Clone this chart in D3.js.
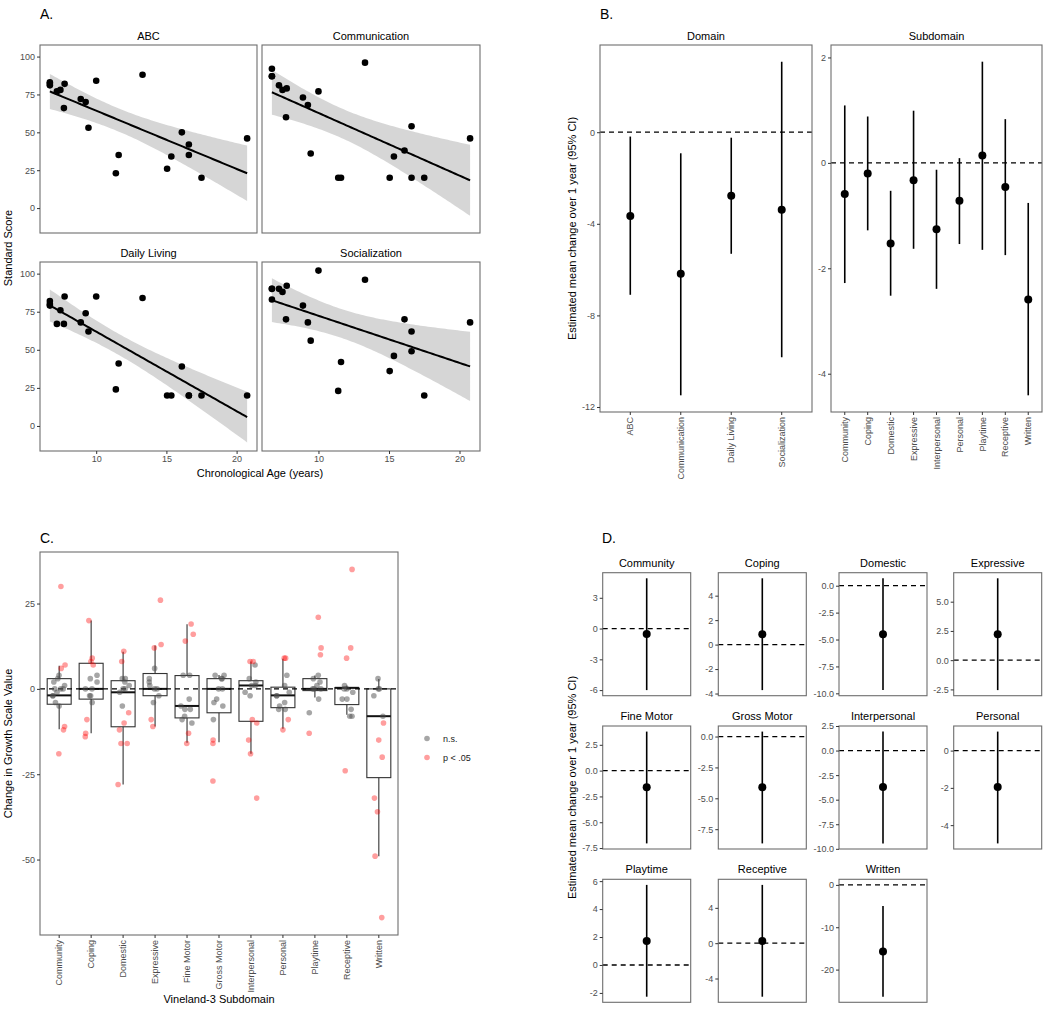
<!DOCTYPE html>
<html><head><meta charset="utf-8">
<script src="https://cdn.jsdelivr.net/npm/d3@7"></script>
<style>
body{margin:0;background:#fff;}
svg text{font-family:"Liberation Sans", Arial, sans-serif;}
</style>
</head><body>
<svg id="chart" width="1050" height="1009"></svg>
<script>
// ---------------- DATA ----------------
// Panel A: standard score vs chronological age
const ages        = [6.7, 6.7, 6.7, 7.2, 7.45, 7.7, 7.75, 8.9, 9.25, 9.45, 10.0, 11.4, 11.6, 13.3, 15.05, 15.35, 16.1, 16.6, 16.6, 17.5, 20.75];
const abcScores   = [83, 82, 81, 77, 78, 66, 82, 72, 70, 53, 84, 23, 35, 88, 26, 34, 50, 42, 35, 20, 46];
const commScores  = [92, 87, 87, 81, 78, 60, 79, 73, 68, 36, 77, 20, 20, 96, 20, 34, 38, 54, 20, 20, 46];
const dailyScores = [82, 79, 80, 67, 76, 67, 85, 68, 74, 62, 85, 24, 41, 84, 20, 20, 39, 20, 20, 20, 20];
const socScores   = [90, 83, 90, 90, 88, 70, 92, 79, 68, 56, 102, 23, 42, 96, 36, 46, 70, 62, 49, 20, 68];
const aFacetNames = ["ABC", "Communication", "Daily Living", "Socialization"];
const aYTicks = [0, 25, 50, 75, 100];
const aXTicks = [10, 15, 20];

// Panel B: estimated mean change over 1 year
const bDomains = ["ABC", "Communication", "Daily Living", "Socialization"];
const bDomEst  = [-3.66, -6.18, -2.78, -3.39];
const bDomLo   = [-7.1, -11.49, -5.31, -9.83];
const bDomHi   = [-0.19, -0.92, -0.24, 3.08];
const bDomTicks = [0, -4, -8, -12];
const bSubs   = ["Community", "Coping", "Domestic", "Expressive", "Interpersonal", "Personal", "Playtime", "Receptive", "Written"];
const bSubEst = [-0.59, -0.2, -1.53, -0.33, -1.26, -0.72, 0.14, -0.46, -2.59];
const bSubLo  = [-2.28, -1.28, -2.52, -1.63, -2.39, -1.54, -1.65, -1.75, -4.41];
const bSubHi  = [1.09, 0.88, -0.53, 0.99, -0.13, 0.09, 1.92, 0.83, -0.76];
const bSubTicks = [2, 0, -2, -4];

// Panel C: change in growth scale value
const cSubs = ["Community", "Coping", "Domestic", "Expressive", "Fine Motor", "Gross Motor", "Interpersonal", "Personal", "Playtime", "Receptive", "Written"];
const cNs = [
  [4, 2, 0, 0, -2, -2, -4, -5, 0, 1, -1, 3],
  [4, 3, 0, -2, -2, -4, 2, 0],
  [3, 3, 2, 0, -1, -5, 0, 1],
  [6, 3, 2, 1, 0, -2, -4, 0],
  [4, 4, -3, -5, -6, -6, -8, -9, -10],
  [4, 4, 3, 3, 0, 0, -3, -4, -5, -9],
  [7, 3, 2, 1, 1, -1, -2],
  [4, 1, -1, -2, -2, -4, -5, -6, -6],
  [4, 3, 2, 1, 0, 0, 0, -3, -7],
  [1, 0, 0, -1, -3, -3, -6, -8, -8],
  [3, 0, 0, -2, -8]
];
const cSig = [
  [30, 7, 6, -11, -12, -19],
  [20, 9, 8, 7, -9, -13, -14],
  [11, 8, -7, -10, -12, -16, -16, -28],
  [26, 13, 12, -9, -11],
  [19, 16, 14, -13, -16],
  [-15, -16, -27],
  [8, 8, -9, -10, -15, -19, -32],
  [9, 9, -9, -12],
  [21, 12, 10, -13],
  [35, 12, 9, -24],
  [-10, -15, -20, -32, -36, -49, -67]
];
const cQ1  = [-4.5, -3.0, -11.1, -2.0, -8.5, -7.0, -9.5, -5.5, -0.5, -4.6, -26];
const cMed = [-1.9, 0, -1.0, 0, -5.0, 0, 1.0, -1.9, 0, 0.3, -8];
const cQ3  = [3.0, 7.5, 2.4, 4.5, 3.9, 3.0, 2.4, 0.5, 3.0, 0.4, 0];
const cWLo = [-11.8, -13, -28, -11, -15.8, -15.6, -19, -11.7, -2.5, -7.6, -49];
const cWHi = [6.8, 20, 10.9, 12.7, 18.9, 4.1, 8.0, 8.8, 3.9, 1.0, 2.9];
const cYTicks = [25, 0, -25, -50];
const cLegend = ["n.s.", "p < .05"];

// Panel D: per-subdomain estimates
const dSubs = ["Community", "Coping", "Domestic", "Expressive", "Fine Motor", "Gross Motor", "Interpersonal", "Personal", "Playtime", "Receptive", "Written"];
const dEst = [-0.54, 0.85, -4.5, 2.22, -1.6, -4.1, -3.72, -1.95, 1.72, 0.26, -15.75];
const dLo  = [-6.0, -3.72, -9.7, -2.56, -7.05, -8.65, -9.45, -4.98, -2.27, -6.06, -26.4];
const dHi  = [4.9, 5.42, 0.69, 7.0, 3.78, 0.4, 1.93, 1.02, 5.73, 6.6, -4.96];
const dTicks = [[3,0,-3,-6],[4,2,0,-2,-4],[0,-2.5,-5,-7.5,-10],[5,2.5,0,-2.5],[2.5,0,-2.5,-5,-7.5],[0,-2.5,-5,-7.5],[2.5,0,-2.5,-5,-7.5,-10],[0,-2,-4],[6,4,2,0,-2],[4,0,-4],[0,-10,-20]];

// ---------------- HELPERS ----------------
const FONT = "Liberation Sans, Arial, sans-serif";
const svg = d3.select("#chart");
const BORDER = "#6e6e6e";

function frame(x0, y0, x1, y1) {
  svg.append("rect").attr("x", x0).attr("y", y0).attr("width", x1 - x0).attr("height", y1 - y0)
    .attr("fill", "none").attr("stroke", BORDER).attr("stroke-width", 1.1);
}
function styleAxis(g) {
  g.attr("font-size", 9).attr("font-family", FONT);
  g.select(".domain").remove();
  g.selectAll(".tick line").attr("stroke", "#333").attr("stroke-width", 1);
  g.selectAll(".tick text").attr("fill", "#4d4d4d");
}
function leftAxis(x0, scale, ticks, fmt) {
  const g = svg.append("g").attr("transform", `translate(${x0},0)`)
    .call(d3.axisLeft(scale).tickValues(ticks).tickSize(3).tickPadding(2).tickFormat(fmt));
  styleAxis(g);
  return g;
}
function bottomAxis(y1, scale, ticks, fmt) {
  const g = svg.append("g").attr("transform", `translate(0,${y1})`)
    .call(d3.axisBottom(scale).tickValues(ticks).tickSize(3).tickPadding(2).tickFormat(fmt));
  styleAxis(g);
  return g;
}
function bottomBandAxis(y1, scale) {
  const g = svg.append("g").attr("transform", `translate(0,${y1})`)
    .call(d3.axisBottom(scale).tickSize(3).tickSizeOuter(0));
  styleAxis(g);
  g.selectAll(".tick text").attr("transform", "rotate(-90)").attr("x", -5).attr("y", 0)
    .attr("dy", "0.35em").attr("text-anchor", "end");
  return g;
}
function text(x, y, s, size, opts = {}) {
  const t = svg.append("text").attr("x", x).attr("y", y).text(s)
    .attr("font-size", size).attr("font-family", FONT).attr("fill", opts.fill || "#000")
    .attr("text-anchor", opts.anchor || "middle");
  if (opts.rotate) t.attr("transform", `rotate(-90,${x},${y})`);
  return t;
}
function expand(lo, hi, f = 0.05) { const r = hi - lo; return [lo - r * f, hi + r * f]; }
function bandX(cats, x0, x1) {
  return d3.scaleBand().domain(cats).range([x0, x1]).paddingInner(0).paddingOuter(0.1);
}
function dashed(x0, x1, y) {
  svg.append("line").attr("x1", x0).attr("x2", x1).attr("y1", y).attr("y2", y)
    .attr("stroke", "#000").attr("stroke-width", 1.3).attr("stroke-dasharray", "5,4");
}

// linear fit with 95% CI
function linfit(xs, ys) {
  const n = xs.length, mx = d3.mean(xs), my = d3.mean(ys);
  let sxx = 0, sxy = 0;
  xs.forEach((x, i) => { sxx += (x - mx) ** 2; sxy += (x - mx) * (ys[i] - my); });
  const b = sxy / sxx, a = my - b * mx;
  let sse = 0; xs.forEach((x, i) => { sse += (ys[i] - a - b * x) ** 2; });
  const s = Math.sqrt(sse / (n - 2)), t = 2.093;
  const [xmin, xmax] = d3.extent(xs);
  const grid = d3.range(0, 81).map(i => xmin + (xmax - xmin) * i / 80);
  return grid.map(x => {
    const yhat = a + b * x, se = s * Math.sqrt(1 / n + (x - mx) ** 2 / sxx);
    return { x, y: yhat, lo: yhat - t * se, hi: yhat + t * se };
  });
}

// ---------------- PANEL A ----------------
text(40, 18.5, "A.", 14, { anchor: "start" });
const aScores = [abcScores, commScores, dailyScores, socScores];
const aFits = aScores.map(s => linfit(ages, s));
const allYA = aScores.flat().concat(aFits.flat().map(d => d.lo), aFits.flat().map(d => d.hi));
const aX = [40, 257, 262, 480];
const aRows = [[45, 233], [262, 451]];
const xDomA = expand(...d3.extent(ages));
const yDomA = expand(d3.min(allYA), d3.max(allYA));
aFacetNames.forEach((name, i) => {
  const col = i % 2, row = Math.floor(i / 2);
  const x0 = aX[col * 2], x1 = aX[col * 2 + 1], y0 = aRows[row][0], y1 = aRows[row][1];
  const x = d3.scaleLinear().domain(xDomA).range([x0, x1]);
  const y = d3.scaleLinear().domain(yDomA).range([y1, y0]);
  const fit = aFits[i];
  svg.append("path").datum(fit).attr("fill", "#999").attr("fill-opacity", 0.4)
    .attr("d", d3.area().x(d => x(d.x)).y0(d => y(d.lo)).y1(d => y(d.hi)));
  svg.append("path").datum(fit).attr("fill", "none").attr("stroke", "#000").attr("stroke-width", 2)
    .attr("d", d3.line().x(d => x(d.x)).y(d => y(d.y)));
  svg.append("g").selectAll("circle").data(ages.map((a, k) => [a, aScores[i][k]])).join("circle")
    .attr("cx", d => x(d[0])).attr("cy", d => y(d[1])).attr("r", 3.3).attr("fill", "#000");
  frame(x0, y0, x1, y1);
  text((x0 + x1) / 2, y0 - 5.5, name, 11);
  if (col === 0) leftAxis(x0, y, aYTicks, d3.format("d"));
  if (row === 1) bottomAxis(y1, x, aXTicks, d3.format("d"));
});
text(12, 248, "Standard Score", 11, { rotate: true });
text(260, 477, "Chronological Age (years)", 11);

// ---------------- PANEL B ----------------
text(600, 18.5, "B.", 14, { anchor: "start" });
function ciPanel(cats, est, lo, hi, ticks, x0, x1, y0, y1, title) {
  const x = bandX(cats, x0, x1);
  const y = d3.scaleLinear().domain(expand(Math.min(d3.min(lo), 0), Math.max(d3.max(hi), 0))).range([y1, y0]);
  dashed(x0, x1, y(0));
  const cx = c => x(c) + x.bandwidth() / 2;
  svg.append("g").selectAll("line").data(cats).join("line")
    .attr("x1", c => cx(c)).attr("x2", c => cx(c))
    .attr("y1", (c, i) => y(lo[i])).attr("y2", (c, i) => y(hi[i]))
    .attr("stroke", "#000").attr("stroke-width", 1.6);
  svg.append("g").selectAll("circle").data(cats).join("circle")
    .attr("cx", c => cx(c)).attr("cy", (c, i) => y(est[i])).attr("r", 4).attr("fill", "#000");
  frame(x0, y0, x1, y1);
  text((x0 + x1) / 2, y0 - 5.5, title, 11);
  leftAxis(x0, y, ticks, d3.format("d"));
  bottomBandAxis(y1, x);
}
ciPanel(bDomains, bDomEst, bDomLo, bDomHi, bDomTicks, 600, 812, 45, 412, "Domain");
ciPanel(bSubs, bSubEst, bSubLo, bSubHi, bSubTicks, 831, 1042, 45, 412, "Subdomain");
text(576, 228.5, "Estimated mean change over 1 year (95% CI)", 11, { rotate: true });

// ---------------- PANEL C ----------------
text(40, 543, "C.", 14, { anchor: "start" });
{
  const x0 = 40, x1 = 398, y0 = 552, y1 = 935;
  const x = bandX(cSubs, x0, x1);
  const allC = cNs.flat().concat(cSig.flat());
  const y = d3.scaleLinear().domain(expand(d3.min(allC), d3.max(allC))).range([y1, y0]);
  const cx = c => x(c) + x.bandwidth() / 2;
  const bw = x.bandwidth() * 0.75;
  const boxes = svg.append("g");
  cSubs.forEach((c, i) => {
    const g = boxes.append("g");
    g.append("line").attr("x1", cx(c)).attr("x2", cx(c)).attr("y1", y(cWHi[i])).attr("y2", y(cQ3[i]))
      .attr("stroke", "#333").attr("stroke-width", 1.1);
    g.append("line").attr("x1", cx(c)).attr("x2", cx(c)).attr("y1", y(cQ1[i])).attr("y2", y(cWLo[i]))
      .attr("stroke", "#333").attr("stroke-width", 1.1);
    g.append("rect").attr("x", cx(c) - bw / 2).attr("width", bw)
      .attr("y", y(cQ3[i])).attr("height", y(cQ1[i]) - y(cQ3[i]))
      .attr("fill", "none").attr("stroke", "#333").attr("stroke-width", 1.1);
    g.append("line").attr("x1", cx(c) - bw / 2).attr("x2", cx(c) + bw / 2).attr("y1", y(cMed[i])).attr("y2", y(cMed[i]))
      .attr("stroke", "#111").attr("stroke-width", 2);
  });
  dashed(x0, x1, y(0));
  const rng = d3.randomLcg(0.37);
  const jit = () => (rng() - 0.5) * 2 * 0.2 * x.bandwidth();
  const pts = [];
  cSubs.forEach((c, i) => {
    cNs[i].forEach(v => pts.push({ c, v, sig: false, j: jit() }));
    cSig[i].forEach(v => pts.push({ c, v, sig: true, j: jit() }));
  });
  svg.append("g").selectAll("circle").data(pts).join("circle")
    .attr("cx", d => cx(d.c) + d.j).attr("cy", d => y(d.v)).attr("r", 2.8)
    .attr("fill", d => d.sig ? "#ff0000" : "#4d4d4d").attr("fill-opacity", d => d.sig ? 0.38 : 0.5);
  frame(x0, y0, x1, y1);
  leftAxis(x0, y, cYTicks, d3.format("d"));
  bottomBandAxis(y1, x);
  text(12, 743.5, "Change in Growth Scale Value", 11, { rotate: true });
  text(219, 1003, "Vineland-3 Subdomain", 11);
  // legend
  const lg = svg.append("g");
  lg.selectAll("circle").data(cLegend).join("circle")
    .attr("cx", 427).attr("cy", (d, i) => 738.5 + i * 19).attr("r", 2.8)
    .attr("fill", (d, i) => i ? "#ff0000" : "#4d4d4d").attr("fill-opacity", (d, i) => i ? 0.38 : 0.5);
  lg.selectAll("text").data(cLegend).join("text")
    .attr("x", 443).attr("y", (d, i) => 738.5 + i * 19).attr("dy", "0.35em")
    .attr("font-size", 9).attr("font-family", FONT).attr("fill", "#1a1a1a").text(d => d);
}

// ---------------- PANEL D ----------------
text(602, 543, "D.", 14, { anchor: "start" });
{
  const colX = [602.7, 718.3, 839, 953.7], W = 88;
  const rowY = [572.7, 726, 879.3], H = 123;
  dSubs.forEach((name, i) => {
    const col = i % 4, row = Math.floor(i / 4);
    const x0 = colX[col], x1 = x0 + W, y0 = rowY[row], y1 = y0 + H;
    const y = d3.scaleLinear().domain(expand(Math.min(dLo[i], 0), Math.max(dHi[i], 0))).range([y1, y0]);
    const x = d3.scalePoint().domain([name]).range([x0, x1]).padding(0.5);
    dashed(x0, x1, y(0));
    svg.append("line").attr("x1", x(name)).attr("x2", x(name)).attr("y1", y(dLo[i])).attr("y2", y(dHi[i]))
      .attr("stroke", "#000").attr("stroke-width", 1.6);
    svg.append("circle").attr("cx", x(name)).attr("cy", y(dEst[i])).attr("r", 4).attr("fill", "#000");
    frame(x0, y0, x1, y1);
    text((x0 + x1) / 2, y0 - 6, name, 11);
    const fmt = dTicks[i].some(v => !Number.isInteger(v)) ? d3.format(".1f") : d3.format("d");
    leftAxis(x0, y, dTicks[i], v => fmt(v).replace("−", "-"));
  });
  text(576, 787.5, "Estimated mean change over 1 year (95% CI)", 11, { rotate: true });
}
// use hyphen-minus in all tick labels like the reference
svg.selectAll(".tick text").each(function () { const t = d3.select(this); t.text(t.text().replace(/\u2212/g, "-")); });
</script>
</body></html>
